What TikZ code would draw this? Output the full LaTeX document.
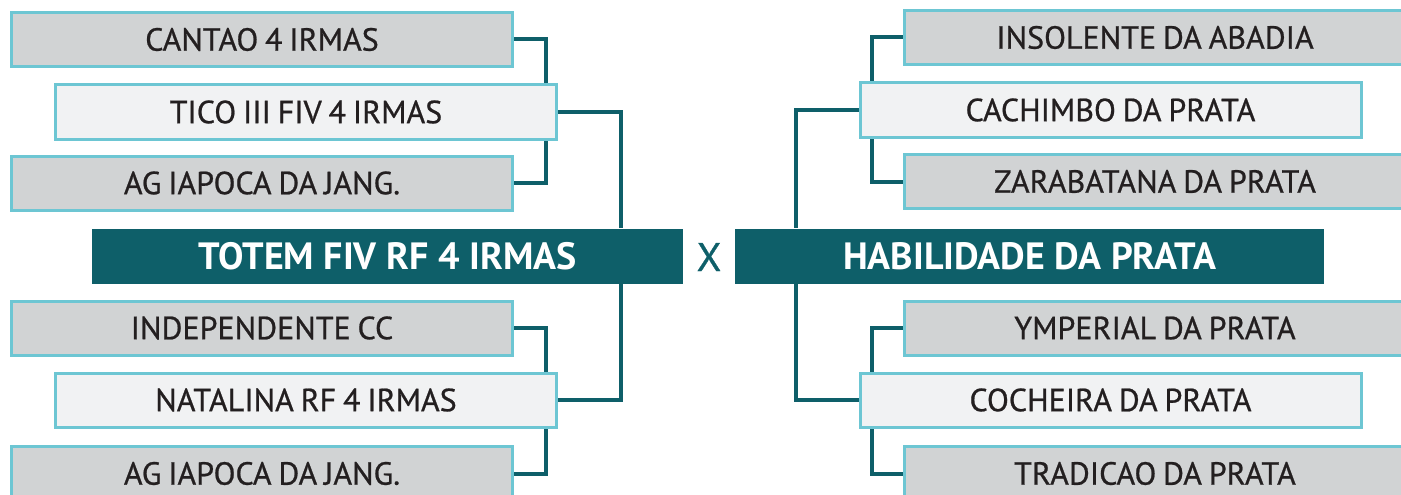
\documentclass[tikz,border=0pt]{standalone}
\usepackage{fontspec}
\setmainfont{PT Sans}
\usepackage{xcolor}
\usetikzlibrary{positioning,backgrounds}
\definecolor{teal}{HTML}{0E5F69}
\definecolor{edge}{HTML}{6DC6D3}
\definecolor{grayfill}{HTML}{D1D3D4}
\definecolor{lightfill}{HTML}{F1F2F3}
\definecolor{ink}{HTML}{231F20}
\newfontfamily\boxfont[FakeBold=0.7, WordSpace=0.8]{PT Sans}

\begin{document}
\begin{tikzpicture}[x=1pt, y=-1pt,
    gbox/.style={rectangle, draw=edge, fill=grayfill, line width=3pt, minimum width=501pt, minimum height=54pt, inner sep=0pt, text=ink, font=\boxfont\fontsize{32}{34}\selectfont},
    wbox/.style={gbox, fill=lightfill},
    tbox/.style={rectangle, fill=teal, minimum height=55pt, inner sep=0pt, text=white, font=\bfseries\fontsize{38}{40}\selectfont},
    link/.style={draw=teal, line width=4pt}
]
\useasboundingbox (0,0) rectangle (1401,495);

% left bracket
\node[gbox] (cantao) at (262,39.5) {CANTAO 4 IRMAS};
\node[wbox] (tico) at (306,112) {TICO III FIV 4 IRMAS};
\node[gbox] (agA) at (262,183) {AG IAPOCA DA JANG.};
\node[tbox, minimum width=591pt] (totem) at (387.5,256) {TOTEM FIV RF 4 IRMAS};
\node[gbox] (indep) at (262,328) {INDEPENDENTE CC};
\node[wbox] (natalina) at (306,400) {NATALINA RF 4 IRMAS};
\node[gbox] (agB) at (262,473.5) {AG IAPOCA DA JANG.};

% right bracket
\node[gbox] (insolente) at (1155,37.5) {INSOLENTE DA ABADIA};
\node[wbox] (cachimbo) at (1110.5,110) {CACHIMBO DA PRATA};
\node[gbox] (zarabatana) at (1155,181.5) {ZARABATANA DA PRATA};
\node[tbox, minimum width=589pt] (habil) at (1029.5,256) {HABILIDADE DA PRATA};
\node[gbox] (ymperial) at (1155,328) {YMPERIAL DA PRATA};
\node[wbox] (cocheira) at (1110.5,400) {COCHEIRA DA PRATA};
\node[gbox] (tradicao) at (1155,473.5) {TRADICAO DA PRATA};

\node[text=teal, font=\boxfont\fontsize{40}{42}\selectfont] (versus) at (709,257) {X};

\begin{scope}[on background layer]
\draw[link] (cantao.east) -| ([xshift=-12pt]tico.north east);
\draw[link] ([xshift=-12pt]tico.south east) |- (agA.east);
\draw[link] (tico.east) -| ([xshift=-62pt]totem.north east);
\draw[link] (indep.east) -| ([xshift=-12pt]natalina.north east);
\draw[link] ([xshift=-12pt]natalina.south east) |- (agB.east);
\draw[link] (natalina.east) -| ([xshift=-62pt]totem.south east);

\draw[link] (insolente.west) -| ([xshift=13pt]cachimbo.north west);
\draw[link] ([xshift=13pt]cachimbo.south west) |- (zarabatana.west);
\draw[link] (cachimbo.west) -| ([xshift=61pt]habil.north west);
\draw[link] (ymperial.west) -| ([xshift=13pt]cocheira.north west);
\draw[link] ([xshift=13pt]cocheira.south west) |- (tradicao.west);
\draw[link] (cocheira.west) -| ([xshift=61pt]habil.south west);
\end{scope}

\end{tikzpicture}
\end{document}
